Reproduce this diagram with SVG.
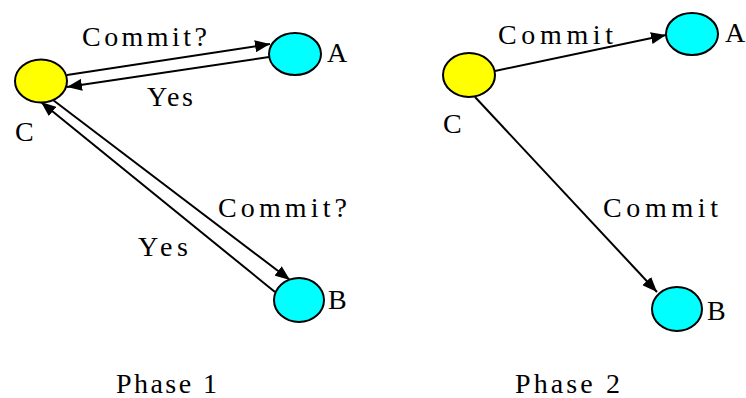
<svg xmlns="http://www.w3.org/2000/svg" width="746" height="398" viewBox="0 0 746 398" font-family="'Liberation Serif', 'Times New Roman', serif" font-size="28">
<style>
text{font-family:'Liberation Serif','Times New Roman',serif;font-size:28px;fill:#000}
.c{fill:#FFFF00;stroke:#000;stroke-width:2}
.p{fill:#00FFFF;stroke:#000;stroke-width:2}
.e{stroke:#000;stroke-width:2;fill:none}
</style>
<defs>
<marker id="ah" markerUnits="userSpaceOnUse" markerWidth="16" markerHeight="12" refX="15" refY="6" orient="auto">
<path d="M0,0 L15,6 L0,12 z" fill="#000"/>
</marker>
</defs>
<rect width="746" height="398" fill="#fff"/>
<g id="connectors">
<line class="e" x1="67" y1="75" x2="270" y2="44" marker-end="url(#ah)"/>
<line class="e" x1="269" y1="57" x2="67" y2="87" marker-end="url(#ah)"/>
<line class="e" x1="53" y1="100" x2="290" y2="280" marker-end="url(#ah)"/>
<line class="e" x1="275" y1="292" x2="41" y2="102" marker-end="url(#ah)"/>
<line class="e" x1="495" y1="71" x2="666" y2="35" marker-end="url(#ah)"/>
<line class="e" x1="475" y1="97" x2="657" y2="292" marker-end="url(#ah)"/>
<text x="82" y="46" textLength="125" lengthAdjust="spacing">Commit?</text>
<text x="147" y="106" textLength="46" lengthAdjust="spacing">Yes</text>
<text x="218" y="217" textLength="129" lengthAdjust="spacing">Commit?</text>
<text x="138" y="256" textLength="50" lengthAdjust="spacing">Yes</text>
<text x="498" y="44" textLength="115" lengthAdjust="spacing">Commit</text>
<text x="603" y="217" textLength="115" lengthAdjust="spacing">Commit</text>
</g>
<g id="p1-C"><ellipse class="c" cx="41" cy="81" rx="26" ry="21.5"/><text x="15" y="141">C</text></g>
<g id="p1-A"><ellipse class="p" cx="295" cy="54" rx="26" ry="21"/><text x="327" y="62">A</text></g>
<g id="p1-B"><ellipse class="p" cx="299" cy="300" rx="25" ry="22"/><text x="328" y="309">B</text></g>
<g id="p2-C"><ellipse class="c" cx="469" cy="75" rx="26" ry="22"/><text x="443" y="133">C</text></g>
<g id="p2-A"><ellipse class="p" cx="692" cy="34" rx="26" ry="21"/><text x="725" y="42">A</text></g>
<g id="p2-B"><ellipse class="p" cx="677" cy="309" rx="25" ry="22"/><text x="707" y="320">B</text></g>
<text id="phase1" x="116" y="393" textLength="101" lengthAdjust="spacing">Phase 1</text>
<text id="phase2" x="515" y="393" textLength="105" lengthAdjust="spacing">Phase 2</text>
</svg>
